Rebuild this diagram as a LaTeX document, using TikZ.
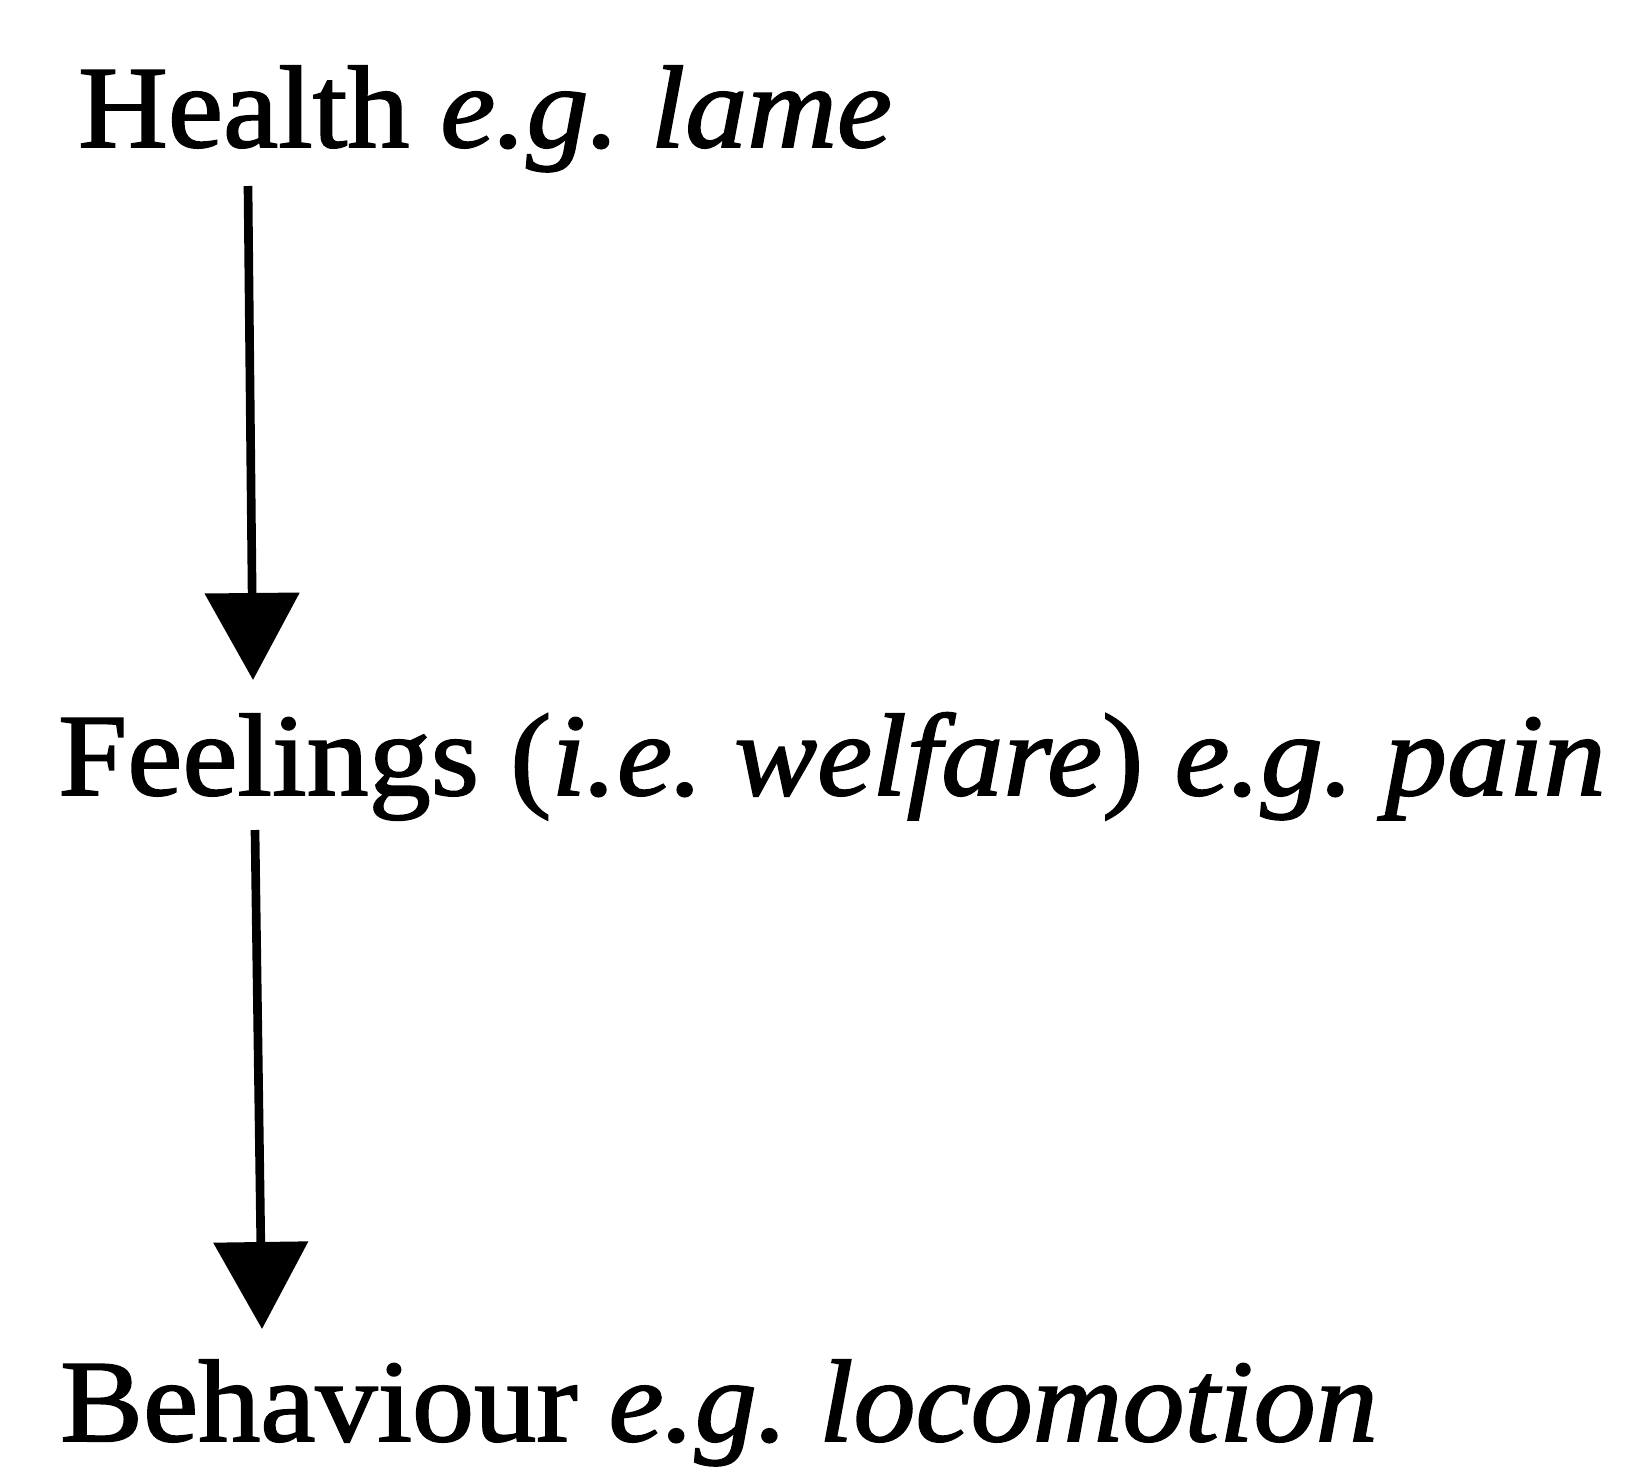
\documentclass[tikz,border=0pt]{standalone}
\usepackage{fontspec}
\setmainfont{Liberation Serif}[FakeBold=1.5,FakeStretch=1.06]
\usetikzlibrary{arrows.meta}
\frenchspacing

\begin{document}
\begin{tikzpicture}[x=0.03cm,y=-0.03cm,
    txt/.style={anchor=base west,inner sep=0pt,font=\fontsize{100}{116}\selectfont},
    flow/.style={line width=0.26cm,-{Triangle[width=2.79cm,length=2.61cm]}}]

    \useasboundingbox (0,0) rectangle (1641,1475);

    % the three levels
    \node[txt] (health) at (78,147) {Health \textit{e.g. lame}};
    \node[txt] (feelings) at (58,795) {Feelings (\textit{i.e. welfare}) \textit{e.g. pain}};
    \node[txt] (behaviour) at (60,1441) {Behaviour \textit{e.g. locomotion}};

    % arrow ends
    \coordinate (h1) at (248,186);
    \coordinate (f1) at (253,680);
    \coordinate (f2) at (255,830);
    \coordinate (b1) at (262,1329);

    \draw[flow] (h1) -- (f1);
    \draw[flow] (f2) -- (b1);

\end{tikzpicture}
\end{document}
